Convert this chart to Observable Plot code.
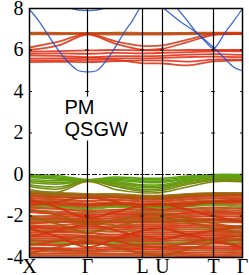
<!DOCTYPE html>
<html>
<head>
<meta charset="utf-8">
<script src="https://cdn.jsdelivr.net/npm/d3@7"></script>
<script src="https://cdn.jsdelivr.net/npm/@observablehq/plot@0.6"></script>
<style>
  html, body { margin: 0; padding: 0; background: white; }
</style>
</head>
<body>
<div id="chart"></div>
<script>
// k-path positions (path length units) of high-symmetry points and sample nodes
const kNodes = [0, 29, 58, 86, 113, 133, 158, 184, 213];
const kTicks = [0, 58, 113, 133, 184, 213];
const kLabels = ["X", "Γ", "L", "U", "T", "Γ"];
const yTicks = [-4, -2, 0, 2, 4, 6, 8];

// orbital character weight: -1 = blue, 0 = green, 1 = red
// Conduction flat bands (values at kNodes)
const condBands = [
  [6.80, 6.80, 6.82, 6.80, 6.78, 6.78, 6.80, 6.80, 6.80],
  [6.76, 6.76, 6.78, 6.74, 6.74, 6.74, 6.76, 6.78, 6.77],
  [6.84, 6.83, 6.80, 6.84, 6.83, 6.83, 6.83, 6.84, 6.84],
  [6.12, 6.40, 6.78, 6.42, 6.20, 6.22, 6.50, 6.78, 6.80],
  [6.00, 6.22, 6.74, 6.30, 6.02, 6.06, 6.38, 6.72, 6.76],
  [5.92, 5.95, 5.98, 6.00, 5.98, 5.98, 6.00, 6.00, 6.00],
  [5.82, 5.84, 5.82, 5.86, 5.84, 5.86, 5.90, 5.94, 5.94],
  [5.73, 5.72, 5.66, 5.70, 5.70, 5.72, 5.78, 5.80, 5.76],
  [5.58, 5.60, 5.62, 5.60, 5.60, 5.62, 5.66, 5.68, 5.65],
  [5.42, 5.43, 5.42, 5.46, 5.50, 5.50, 5.44, 5.54, 5.52],
  [5.50, 5.50, 5.52, 5.52, 5.36, 5.35, 5.26, 5.45, 5.50]
];
const condWeights = [0.72, 0.72, 0.72, 0.9, 0.95, 1, 1, 1, 1, 1, 0.95];

// Blue dispersive conduction bands: own k samples
const blueK = [
  [0, 9, 29, 39, 49, 58, 67, 79, 96, 103, 110, 118],
  [26, 40, 58, 76, 90],
  [132, 150, 168, 184, 195, 205, 213],
  [146, 158, 166, 175, 184, 195, 205, 213]
];
const blueE = [
  [7.95, 7.42, 5.98, 5.40, 5.00, 4.95, 5.00, 5.64, 6.94, 7.42, 8.00, 8.50],
  [8.35, 8.02, 7.90, 8.02, 8.35],
  [8.10, 7.40, 6.80, 6.12, 5.60, 5.15, 5.00],
  [8.10, 7.40, 6.90, 6.45, 6.08, 6.80, 7.45, 8.00]
];

// Upper valence (green) bands at kNodes
const greenBands = [
  [ 0.00, -0.06, -0.24, -0.12, -0.18, -0.18, -0.08,  0.00,  0.00],
  [-0.04, -0.12, -0.26, -0.18, -0.25, -0.25, -0.12, -0.03, -0.03],
  [-0.09, -0.18, -0.28, -0.24, -0.32, -0.32, -0.17, -0.07, -0.07],
  [-0.14, -0.23, -0.30, -0.29, -0.38, -0.38, -0.21, -0.11, -0.11],
  [-0.24, -0.30, -0.26, -0.34, -0.50, -0.48, -0.27, -0.15, -0.15],
  [-0.32, -0.38, -0.29, -0.40, -0.56, -0.54, -0.31, -0.18, -0.18],
  [-0.40, -0.46, -0.32, -0.45, -0.63, -0.60, -0.36, -0.22, -0.22],
  [-0.50, -0.60, -0.31, -0.52, -0.72, -0.68, -0.42, -0.25, -0.26],
  [-0.58, -0.70, -0.30, -0.58, -0.80, -0.76, -0.48, -0.29, -0.30],
  [-0.72, -0.84, -0.34, -0.72, -0.88, -0.86, -0.60, -0.35, -0.35]
];
const greenWeights = [0.02, 0.02, 0.04, 0.06, 0.08, 0.1, 0.12, 0.15, 0.2, 0.28];

// Lower valence (mixed) bands at kNodes
const valBands = [
  [-0.82, -0.88, -0.95, -0.95, -1.02, -1.02, -0.95, -0.90, -0.90],
  [-0.88, -0.94, -0.98, -1.00, -1.06, -1.06, -0.98, -0.93, -0.93],
  [-0.92, -0.98, -1.00, -1.05, -1.10, -1.10, -1.00, -0.95, -0.95],
  [-1.00, -1.05, -1.08, -1.08, -1.15, -1.15, -1.05, -1.00, -0.98],
  [-1.04, -1.10, -1.14, -1.12, -1.20, -1.20, -1.10, -1.05, -1.02],
  [-1.14, -1.20, -1.28, -1.22, -1.30, -1.30, -1.20, -1.15, -1.12],
  [-1.25, -1.30, -1.40, -1.34, -1.40, -1.40, -1.30, -1.26, -1.25],
  [-1.30, -1.38, -1.45, -1.40, -1.45, -1.46, -1.38, -1.31, -1.30],
  [-1.36, -1.45, -1.50, -1.45, -1.50, -1.50, -1.44, -1.36, -1.36],
  [-1.44, -1.50, -1.58, -1.50, -1.55, -1.55, -1.50, -1.42, -1.46],
  [-1.50, -1.56, -1.66, -1.56, -1.60, -1.60, -1.54, -1.46, -1.57],
  [-1.60, -1.66, -1.76, -1.70, -1.70, -1.70, -1.65, -1.60, -1.66],
  [-1.70, -1.80, -1.86, -1.80, -1.80, -1.80, -1.75, -1.70, -1.76],
  [-1.80, -1.90, -1.96, -1.90, -1.90, -1.92, -1.85, -1.80, -1.86],
  [-2.02, -2.00, -2.05, -2.00, -2.00, -2.00, -1.95, -1.90, -1.95],
  [-2.12, -2.10, -2.15, -2.10, -2.10, -2.10, -2.05, -2.00, -2.05],
  [-2.20, -2.16, -2.25, -2.20, -2.20, -2.18, -2.15, -2.12, -2.15],
  [-2.28, -2.24, -2.20, -2.26, -2.25, -2.24, -2.20, -2.16, -2.20],
  [-2.36, -2.30, -2.30, -2.32, -2.30, -2.30, -2.25, -2.20, -2.25],
  [-2.45, -2.45, -2.34, -2.45, -2.40, -2.40, -2.35, -2.30, -2.30],
  [-2.52, -2.55, -2.50, -2.55, -2.50, -2.50, -2.45, -2.45, -2.50],
  [-2.60, -2.62, -2.60, -2.65, -2.60, -2.60, -2.55, -2.55, -2.60],
  [-2.70, -2.72, -2.70, -2.75, -2.70, -2.70, -2.65, -2.65, -2.70],
  [-2.80, -2.78, -2.82, -2.90, -2.80, -2.80, -2.76, -2.75, -2.80],
  [-2.90, -2.90, -2.95, -3.00, -2.90, -2.90, -2.86, -2.85, -2.90],
  [-3.00, -3.00, -3.05, -3.06, -3.00, -3.00, -2.96, -2.95, -3.00],
  [-3.10, -3.10, -3.15, -3.12, -3.10, -3.10, -3.06, -3.05, -3.10],
  [-3.20, -3.20, -3.25, -3.20, -3.20, -3.20, -3.16, -3.15, -3.20],
  [-3.28, -3.30, -3.34, -3.30, -3.30, -3.30, -3.26, -3.25, -3.30],
  [-3.36, -3.40, -3.30, -3.40, -3.38, -3.38, -3.36, -3.32, -3.38],
  [-3.52, -3.56, -3.56, -3.50, -3.50, -3.50, -3.50, -3.46, -3.50],
  [-3.60, -3.62, -3.66, -3.60, -3.60, -3.60, -3.56, -3.56, -3.60],
  [-3.70, -3.70, -3.72, -3.70, -3.70, -3.70, -3.66, -3.66, -3.70],
  [-3.82, -3.80, -3.80, -3.82, -3.80, -3.80, -3.78, -3.76, -3.80],
  [-3.90, -3.90, -3.90, -3.90, -3.90, -3.90, -3.88, -3.86, -3.90],
  [-4.00, -4.00, -4.00, -4.00, -4.00, -4.00, -3.98, -3.96, -4.00],
  [-1.20, -1.60, -2.10, -1.80, -1.50, -1.40, -1.70, -2.00, -2.30],
  [-2.00, -2.40, -2.80, -2.50, -2.20, -2.10, -2.30, -2.60, -2.80],
  [-3.00, -2.70, -2.40, -2.70, -3.00, -3.10, -2.90, -2.70, -2.50],
  [-3.80, -3.50, -3.20, -3.50, -3.80, -3.90, -3.60, -3.30, -3.10],
  [-1.50, -1.30, -1.10, -1.30, -1.60, -1.70, -1.50, -1.30, -1.20],
  [-2.60, -3.00, -3.50, -3.10, -2.70, -2.60, -2.90, -3.20, -3.50],
  [-1.70, -1.95, -2.40, -2.20, -1.95, -1.90, -2.10, -2.35, -2.60],
  [-3.40, -3.20, -2.95, -3.20, -3.45, -3.50, -3.30, -3.10, -2.95]
];
const valWeights = [
  0.45, 0.5, 0.55, 0.6, 0.75, 0.85, 0.7, 0.9, 0.95, 0.6,
  0.1, 0.85, 0.6, 1, 0.75, 0.95, 0.65, 0.55, 0.9, 0.7,
  1, 0.8, 0.6, 0.95, 0.75, 1, 0.7, 0.9, 0.15, 0.95,
  0.8, 1, 0.65, 0.9, 0.75, 1,
  0.9, 0.6, 0.85, 0.7, 0.8, 0.9, 0.65, 0.75
];

// Build tidy rows
function rows(bands, weights, group) {
  const out = [];
  bands.forEach((b, i) => b.forEach((E, j) => out.push({band: group + i, k: kNodes[j], E, w: weights[i]})));
  return out;
}
const valRows = rows(valBands, valWeights, "v");
const greenRows = rows(greenBands, greenWeights, "g");
const condRows = rows(condBands, condWeights, "c");
const blueRows = [];
blueK.forEach((ks, i) => ks.forEach((k, j) => blueRows.push({band: "b" + i, k, E: blueE[i][j], w: -1})));

const labelMap = new Map(kTicks.map((k, i) => [k, kLabels[i]]));
const innerTicks = [];
kTicks.forEach((k, i) => [-2, 0, 2, 4, 6].forEach(y => innerTicks.push({
  y, x1: i === 0 ? k : k - 1.8, x2: i === kTicks.length - 1 ? k : k + 1.8 + (i === 0 ? 1.2 : 0)
})));

const chart = Plot.plot({
  width: 249,
  height: 275,
  marginLeft: 29,
  marginRight: 7,
  marginTop: 8,
  marginBottom: 18,
  x: {domain: [0, 213], axis: null},
  y: {domain: [-4, 8], axis: null},
  color: {type: "linear", domain: [-1, 0, 1], range: ["#1d4fc8", "#5aa812", "#e2260c"], interpolate: "rgb"},
  style: {fontFamily: "'Liberation Serif', 'Times New Roman', serif", fontSize: "20px", background: "white", color: "black", overflow: "visible"},
  marks: [
    Plot.line(valRows, {x: "k", y: "E", z: "band", stroke: "w", strokeWidth: 2.2, strokeOpacity: 0.9, curve: "catmull-rom", clip: true}),
    Plot.line(greenRows, {x: "k", y: "E", z: "band", stroke: "w", strokeWidth: 1.6, strokeOpacity: 1, curve: "catmull-rom", clip: true}),
    Plot.line(condRows, {x: "k", y: "E", z: "band", stroke: "w", strokeWidth: 1.8, strokeOpacity: 0.85, curve: "catmull-rom", clip: true}),
    Plot.line(blueRows, {x: "k", y: "E", z: "band", stroke: "w", strokeWidth: 1.3, strokeOpacity: 0.85, curve: "catmull-rom", clip: true}),
    Plot.ruleY([0], {x1: 0, x2: 184, stroke: "black", strokeWidth: 1.2, strokeDasharray: "5,2,1.5,2"}),
    Plot.ruleX(kTicks.slice(1, -1), {stroke: "black", strokeWidth: 1.2}),
    Plot.ruleY(innerTicks, {y: "y", x1: "x1", x2: "x2", stroke: "black", strokeWidth: 1}),
    Plot.text(["PM"], {x: 35, y: 3.23, text: d => d, textAnchor: "start", fontFamily: "'Liberation Sans', Arial, sans-serif", fontSize: 20, fill: "black", stroke: "white", strokeWidth: 9}),
    Plot.text(["QSGW"], {x: 35, y: 2.17, text: d => d, textAnchor: "start", fontFamily: "'Liberation Sans', Arial, sans-serif", fontSize: 20, fill: "black", stroke: "white", strokeWidth: 9}),
    Plot.frame({stroke: "black", strokeWidth: 1.5}),
    Plot.axisY(yTicks, {tickSize: 0, tickPadding: 6, label: null, tickFormat: d => d < 0 ? "-" + Math.abs(d) : String(d)}),
    Plot.axisX(kTicks, {tickSize: 0, tickPadding: 1, label: null, tickFormat: d => labelMap.get(d)})
  ]
});
document.getElementById("chart").appendChild(chart);
</script>
</body>
</html>
